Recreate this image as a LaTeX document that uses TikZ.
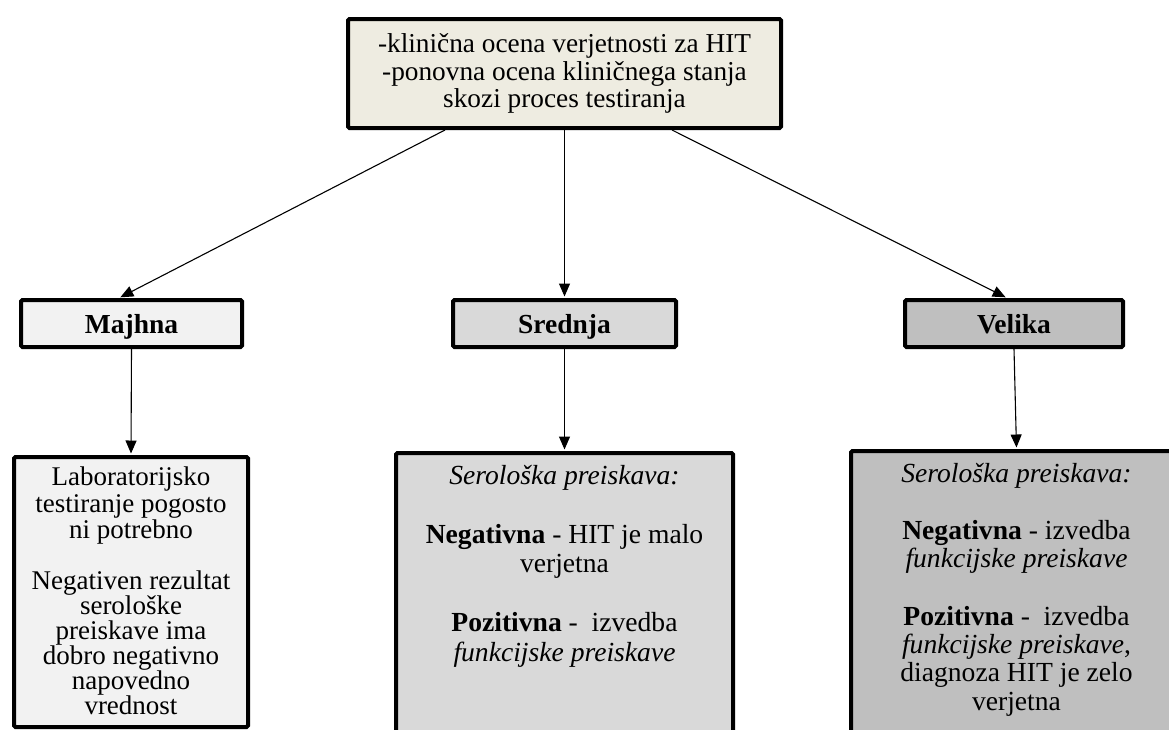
\documentclass[tikz,border=0pt]{standalone}
\usepackage{fontspec}
\setmainfont{Liberation Serif}
\usetikzlibrary{arrows.meta}
\definecolor{topfill}{HTML}{EEECE1}
\definecolor{lowfill}{HTML}{F2F2F2}
\definecolor{midfill}{HTML}{D9D9D9}
\definecolor{highfill}{HTML}{BFBFBF}
\begin{document}
\begin{tikzpicture}[x=1pt,y=-1pt,
  box/.style={draw=black, line width=4pt, rounded corners=1.5pt, inner sep=0pt, anchor=north west},
  arr/.style={-{Triangle[length=13pt,width=11pt]}, line width=1.1pt, shorten >=1.5pt},
  lbl/.style={font=\fontsize{27.5}{28}\selectfont\bfseries, text height=21pt, text depth=2pt}
]
\useasboundingbox (0,0) rectangle (1169,729);
\clip (0,0) rectangle (1169,729);

\node[box, fill=topfill, minimum width=433pt, minimum height=109pt, align=center,
      font=\fontsize{27.3}{27.3}\selectfont] (top) at (346,17)
  {-klinična ocena verjetnosti za HIT\\-ponovna ocena kliničnega stanja\\skozi proces testiranja};

\node[box, lbl, fill=lowfill, minimum width=221pt, minimum height=47pt] (maj) at (19,298) {Majhna};
\node[box, lbl, fill=midfill, minimum width=223pt, minimum height=47pt] (sred) at (451,298) {Srednja};
\node[box, lbl, fill=highfill, minimum width=218pt, minimum height=47pt] (vel) at (903,298) {Velika};

\node[box, fill=lowfill, minimum width=234pt, minimum height=270pt] (bl) at (12,455)
  {\parbox[c][270pt][t]{230pt}{\centering\fontsize{27}{26.3}\selectfont\vspace{10pt}%
   Laboratorijsko\\testiranje pogosto\\ni potrebno\\[26.3pt]%
   \fontsize{27}{25}\selectfont Negativen rezultat\\serološke\\preiskave ima\\dobro negativno\\napovedno\\vrednost\par}};

\node[box, fill=midfill, minimum width=337pt, minimum height=340pt] (bm) at (394,451)
  {\parbox[c][340pt][t]{333pt}{\centering\fontsize{27.6}{29.5}\selectfont\vspace{12pt}%
   \textit{Serološka preiskava:}\\[29.5pt]%
   \textbf{Negativna} - HIT je malo\\verjetna\\[29.5pt]%
   \textbf{Pozitivna} - \ izvedba\\\textit{funkcijske preiskave}\par}};

\node[box, fill=highfill, minimum width=331pt, minimum height=340pt] (br) at (849,449)
  {\parbox[c][340pt][t]{327pt}{\centering\fontsize{27.6}{28.3}\selectfont\vspace{12pt}%
   \textit{Serološka preiskava:}\\[29pt]%
   \textbf{Negativna} - izvedba\\\textit{funkcijske preiskave}\\[29pt]%
   \textbf{Pozitivna} - \ izvedba\\\textit{funkcijske preiskave},\\diagnoza HIT je zelo\\verjetna\par}};

\draw[arr] ([xshift=-119.5pt]top.south) -- ([xshift=-12.5pt]maj.north);
\draw[arr] (top.south) -- (sred.north);
\draw[arr] ([xshift=107.5pt]top.south) -- ([xshift=-7pt]vel.north);

\draw[arr] (maj.south) -- (bl.north);
\draw[arr] (sred.south) -- (bm.north);
\draw[arr] (vel.south) -- (br.north);
\end{tikzpicture}
\end{document}
